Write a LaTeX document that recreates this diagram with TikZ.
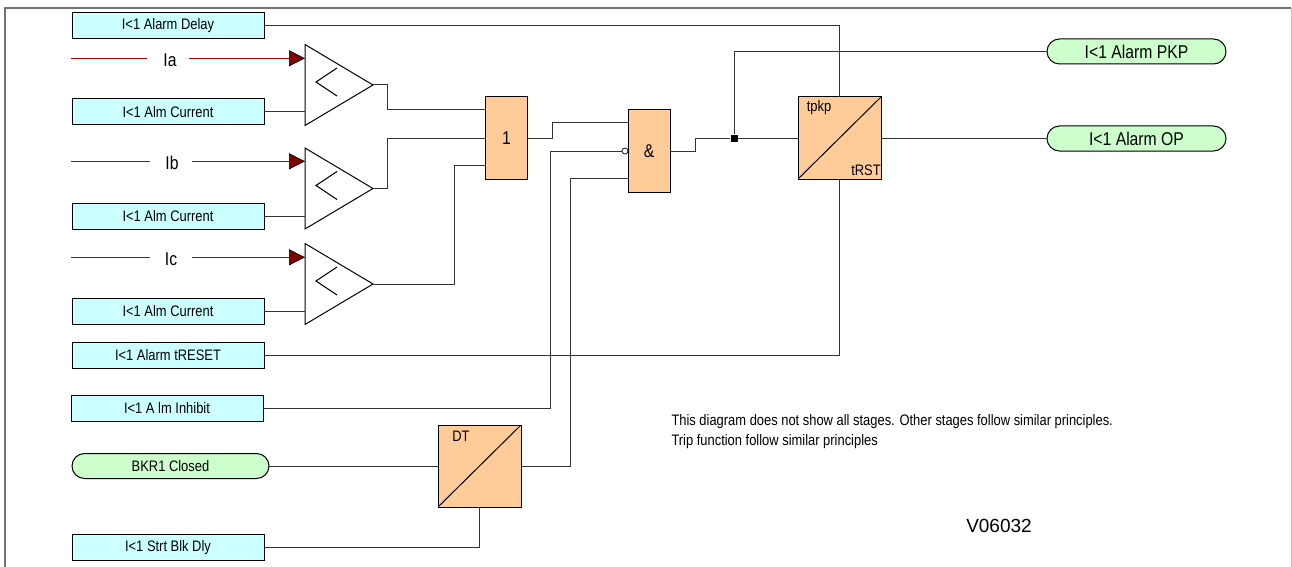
\documentclass[tikz,border=0pt]{standalone}
\usepackage{fontspec}
\setmainfont[FakeStretch=0.85]{Liberation Sans}
\newfontfamily\plainfont{Liberation Sans}
\usepackage{xcolor}
\usetikzlibrary{positioning,shapes.geometric,arrows.meta}

\definecolor{infofill}{HTML}{CCFFFF}
\definecolor{pillfill}{HTML}{CCFFCC}
\definecolor{gatefill}{HTML}{FFCC99}
\definecolor{sigred}{HTML}{7F0000}
\definecolor{sigwire}{HTML}{B00000}

\tikzset{
    smalltext/.style={font=\fontsize{15.2}{18}\selectfont},
    bigtext/.style={font=\fontsize{18.5}{22}\selectfont},
    infobox/.style={draw, fill=infofill, minimum width=192pt, minimum height=26pt, inner sep=0pt, outer sep=0pt, smalltext},
    pillbox/.style={draw, fill=pillfill, rounded corners=12.5pt, minimum height=25pt, inner sep=0pt, outer sep=0pt},
    gatebox/.style={draw, fill=gatefill, minimum width=42pt, minimum height=82pt, inner sep=0pt, outer sep=0pt, bigtext},
    timerbox/.style={draw, fill=gatefill, minimum width=83pt, minimum height=82pt, inner sep=0pt, outer sep=0pt,
        path picture={\draw (path picture bounding box.south west) -- (path picture bounding box.north east);}},
    cmpbox/.style={draw, fill=white, isosceles triangle, isosceles triangle apex angle=62, isosceles triangle stretches, minimum width=81pt, minimum height=68pt, inner sep=0pt, outer sep=0pt, anchor=lower side},
    siglabel/.style={bigtext, inner sep=0pt},
    sigline/.style={draw=sigwire},
    sigarrow/.style={draw=sigwire, -{Triangle[length=16pt, width=16pt, fill=sigred, color=black, line width=0.7pt]}},
    wire/.style={draw=black!80},
    timertext/.style={smalltext, inner sep=0pt},
    notetext/.style={smalltext, inner sep=0pt, anchor=west}
}

\begin{document}
\begin{tikzpicture}[x=1pt, y=-1pt, line width=1pt, node distance=14pt and 40pt]
    \useasboundingbox (0,0) rectangle (1292,567);

    \draw[black!55, line width=1.8pt] (5,567) -- (5,8) -- (1291,8);
    \draw[black!25] (1291,8) -- (1291,567);

    \node[infobox] at (168,26) (Delay) {I<1 Alarm Delay};
    \node[infobox, below=60pt of Delay] (CurA) {I<1 Alm Current};
    \node[infobox, below=78pt of CurA] (CurB) {I<1 Alm Current};
    \node[infobox, below=69pt of CurB] (CurC) {I<1 Alm Current};
    \node[infobox, below=18pt of CurC] (Reset) {I<1 Alarm tRESET};
    \node[infobox, below=27pt of Reset, xshift=-1pt] (Inhibit) {I<1 A lm Inhibit};
    \node[pillbox, minimum width=197pt, smalltext] at (170.5,466) (Bkr) {BKR1 Closed};
    \node[infobox] at (168,547.5) (Blk) {I<1 Strt Blk Dly};

    \node[siglabel] at (170,60) (Ia) {Ia};
    \node[siglabel] at (172,163) (Ib) {Ib};
    \node[siglabel] at (171,259) (Ic) {Ic};
    \coordinate (Ia0) at (71,58.3);
    \coordinate (Ib0) at (71,161.3);
    \coordinate (Ic0) at (71,257.3);
    \coordinate (Ia1) at (147,58.3);
    \coordinate (Ib1) at (150,161.3);
    \coordinate (Ic1) at (150,257.3);
    \coordinate (Ia2) at (189,58.3);
    \coordinate (Ib2) at (192,161.3);
    \coordinate (Ic2) at (192,257.3);

    \node[cmpbox] at (305,85) (CmpA) {};
    \node[cmpbox] at (305,188.5) (CmpB) {};
    \node[cmpbox] at (305,284) (CmpC) {};
    \draw ([shift={(32pt,17pt)}]CmpA.lower side) -- ([shift={(11pt,3pt)}]CmpA.lower side) -- ([shift={(32pt,-11pt)}]CmpA.lower side);
    \draw ([shift={(32pt,17pt)}]CmpB.lower side) -- ([shift={(11pt,3pt)}]CmpB.lower side) -- ([shift={(32pt,-11pt)}]CmpB.lower side);
    \draw ([shift={(32pt,17pt)}]CmpC.lower side) -- ([shift={(11pt,3pt)}]CmpC.lower side) -- ([shift={(32pt,-11pt)}]CmpC.lower side);

    \node[gatebox] at (506.5,138) (OrGate) {1};
    \node[gatebox] at (649,151) (AndGate) {\&};
    \node[timerbox] at (839.5,138) (Pkp) {};
    \node[timerbox] at (479.5,466) (Dt) {};
    \node[timertext] at (819,108) (PkpT) {tpkp};
    \node[timertext] at (866,170) (RstT) {tRST};
    \node[timertext] at (461,436) (DtT) {DT};

    \node[circle, draw, fill=white, inner sep=0pt, line width=0.7pt, minimum size=6pt] at (625,151) (Neg) {};
    \node[rectangle, fill=black, inner sep=0pt, minimum size=7pt] at (734,138) (Jct) {};

    \node[pillbox, minimum width=179pt, bigtext] at (1136.5,51.5) (AlarmPkp) {I<1 Alarm PKP};
    \node[pillbox, minimum width=179pt, bigtext] at (1136.5,138.5) (AlarmOp) {I<1 Alarm OP};

    \node[notetext] at (671,422) (NoteA) {This diagram does not show all stages. Other stages follow similar principles.};
    \node[notetext] at (671,442) (NoteB) {Trip function follow similar principles};
    \node[font=\plainfont\fontsize{19}{22}\selectfont, inner sep=0pt] at (999,526) (Ver) {V06032};

    \draw[sigline] (Ia0) -- (Ia1);
    \draw[sigline] (Ib0) -- (Ib1);
    \draw[sigline] (Ic0) -- (Ic1);
    \draw[sigarrow] (Ia2) -- (Ia2 -| CmpA.lower side);
    \draw[sigarrow] (Ib2) -- (Ib2 -| CmpB.lower side);
    \draw[sigarrow] (Ic2) -- (Ic2 -| CmpC.lower side);

    \draw[wire] (CurA) -- (CurA -| CmpA.lower side);
    \draw[wire] (CurB) -- (CurB -| CmpB.lower side);
    \draw[wire] (CurC) -- (CurC -| CmpC.lower side);

    \draw[wire] (CmpA.apex) -| (387,110) -- (OrGate.west |- 0,110);
    \draw[wire] (CmpB.apex) -| (387,138) -- (OrGate.west);
    \draw[wire] (CmpC.apex) -| (454,165) -- (OrGate.west |- 0,165);

    \draw[wire] (OrGate.east) -| (552,123) -- (AndGate.west |- 0,123);
    \draw[wire] (Inhibit.east) -| (550,151) -- (Neg.west);
    \draw[wire] (Dt.east) -| (570,178) -- (AndGate.west |- 0,178);
    \draw[wire] (Bkr.east) -- (Dt.west);
    \draw[wire] (Blk.east) -| (Dt.south);

    \draw[wire] (AndGate.east) -| (695,138) -- (Jct.west);
    \draw[wire] (Jct.east) -- (Pkp.west);
    \draw[wire] (Jct.north) |- (AlarmPkp.west);
    \draw[wire] (Pkp.east |- AlarmOp.west) -- (AlarmOp.west);

    \draw[wire] (Delay.east) -| (Pkp.north);
    \draw[wire] (Reset.east) -| (Pkp.south);
\end{tikzpicture}
\end{document}
